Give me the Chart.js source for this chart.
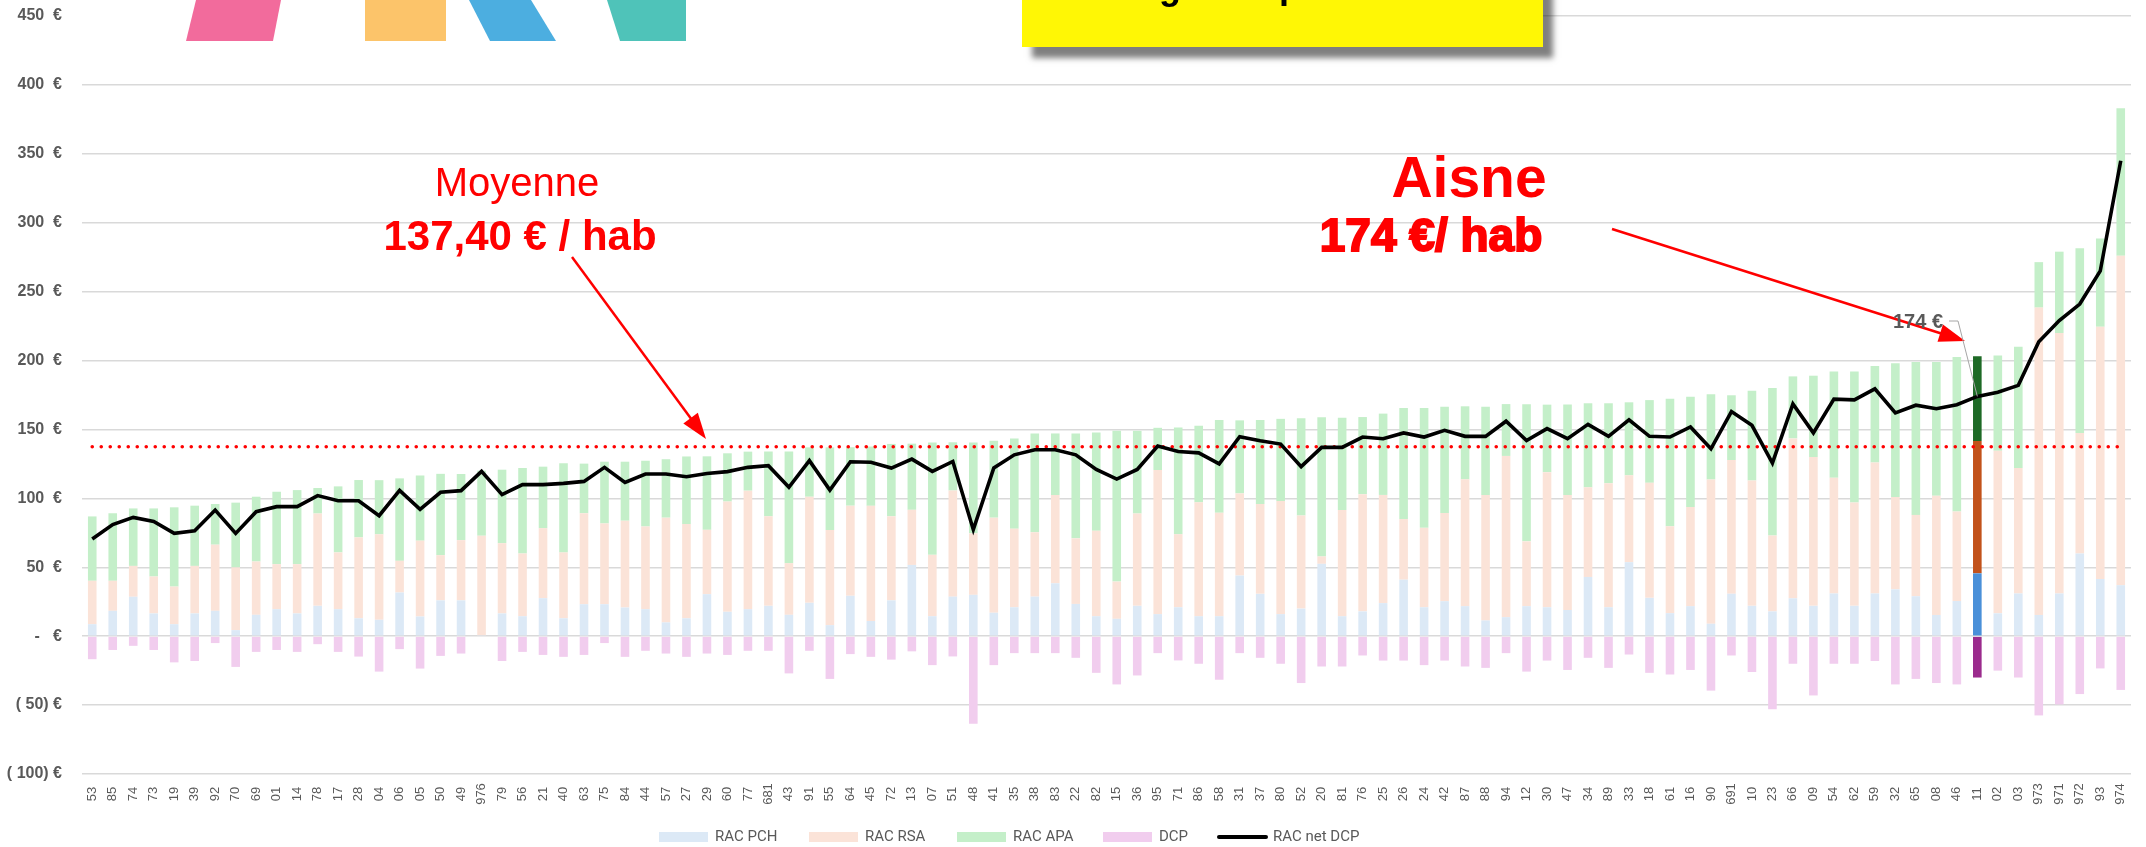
<!DOCTYPE html>
<html>
<head>
<meta charset="utf-8">
<script src="https://cdn.jsdelivr.net/npm/chart.js@4.4.1/dist/chart.umd.min.js"></script>
<style>
html, body { margin: 0; padding: 0; background: #fff; }
#wrap { width: 2146px; height: 847px; position: relative; }
</style>
</head>
<body>
<div id="wrap"><canvas id="chart0"></canvas></div>
<script>
// departements, in the order of the chart
const departements = ['53','85','74','73','19','39','92','70','69','01','14','78','17','28','04','06','05','50','49','976',
    '79','56','21','40','63','75','84','44','57','27','29','60','77','681','43','91','55','64','45','72',
    '13','07','51','48','41','35','38','83','22','82','15','36','95','71','86','58','31','37','80','52',
    '20','81','76','25','26','24','42','87','88','94','12','30','47','34','89','33','18','61','16','90',
    '691','10','23','66','09','54','62','59','32','65','08','46','11','02','03','973','971','972','93','974'];

// euros / habitant
const racPch = [8.7,18.4,28.6,16.5,8.7,16.5,18.4,4.4,15.5,19.6,16.5,22,19.6,13,11.9,31.7,14.3,26,26,0.7,
    16.5,14.5,27.6,13,23.2,23.2,20.8,19.6,10,13,30.5,17.7,19.6,22,15.5,24.2,8,29.3,11,26,
    51.7,14.5,28.7,30,17,21,28.7,38.4,23.4,14.5,12.6,22,16,21,14.5,14.5,44,30.7,16,20,
    52.5,14.5,18,24,41,21,25.4,21.8,11.4,13.8,21.8,21,19,43,21,53.7,27.8,16.7,21.8,9,
    30.8,22,18,27.5,22,31,22,31,34,29,15.4,25.5,45.6,16.6,31,15.4,31,60,41.5,37];
const racRsa = [31.5,21.8,22.4,26.8,27.3,34.5,48,45.5,38.7,32.7,35.8,67,41.2,58.7,62,23,55,32.8,43.7,72.2,
    51,45.5,50.8,47.8,66,58.6,63,60,76,68.4,46.7,80,86,65,37.5,77,69,65.4,83.6,61,
    40,44.5,77,44.6,69,57,46.7,64,47.6,62,27,67,104.6,53,82.6,75,59.6,65.2,82,67.6,
    5.4,77,85,78.5,44,57.6,64,92,91,117,47,98,83.5,65,90,63,83.5,63,72,104.6,
    97,91,55,116,108,84,75,95,67,59,86.5,65,96,118,91,223,189,87.5,183,239];
const racApa = [46.7,49,41.7,49.4,57.5,43.7,29.5,47,47,52.5,53.7,18.5,47.9,41.6,39.3,59.8,47.3,59,48,47.2,
    53.3,62,44.6,64.6,36,44.8,42.8,47.7,42.4,49,53.3,35,28.3,47,81,35.8,60,42.4,43,52.5,
    48,81.6,35,66,55.8,65.4,71.7,44.7,76,71.2,109.4,60,30.6,77.4,55.6,67.4,53,61,59.7,70.6,
    101,67,56,59,80.6,87,77,53,64,37.6,99.5,49,65.6,61,58,53,60,92.5,80,62,
    47,65,107,45,59,77,95,70,97,111,97,112,61.6,69,88,33,59,134,64,107];
const dcp = [-16.7,-10,-7,-10,-19,-18,-5,-22.3,-11.4,-10,-11.4,-5.8,-11.4,-14.8,-25.7,-9.4,-23.5,-14.3,-12.6,0,
    -18,-11.4,-13.6,-15,-13.6,-5,-15,-10.6,-12.6,-15,-12.6,-13.6,-10.6,-10.6,-27,-10.6,-31,-13,-15,-17,
    -11,-21,-14.7,-63.5,-21,-12.3,-12.3,-12.3,-15.7,-26.6,-35,-28.5,-12.3,-17.6,-20,-31.6,-12.3,-15.7,-20,-34,
    -22,-22,-14,-17.7,-17.7,-21,-17.7,-22,-23,-12.3,-25.7,-17.7,-24.5,-15.7,-23,-13.3,-26.6,-27.8,-24.5,-39.5,
    -14,-26,-53,-20,-43,-20,-20,-18,-35,-31,-34,-35,-30,-25,-30,-57.5,-49.5,-42,-23.4,-39];
const racNetDcp = [70.5,81,86.2,83.3,74.6,76.5,91.5,74.6,90.3,94,94,102,98.3,98.3,87.4,105.8,92,104.4,105.6,119.6,
    102.7,110,110,110.9,112.3,122.5,111.6,117.7,117.7,115.7,118,119.4,122.5,123.7,108,127.4,106,126.6,126.2,122,
    128.5,119.6,126.8,77.3,122,131.6,135.3,135.3,131.6,121,114,121,138,134,133,125,144.7,141.8,139.4,123,
    137,137,144.5,143.3,147.5,144.5,149.4,145,145,156,142,150.6,143.3,153.7,145,157,145,144.5,151.8,136,
    163,153,125.6,168.5,147.5,172,171.5,179.5,162,167.6,165,168,174,177,182,213.6,229,241,265,345];
const moyenne = 137.40;
const aisneValeur = 174;
const yTicks = { min: -100, max: 450, step: 50 };

const seriesNames = ['RAC PCH', 'RAC RSA', 'RAC APA', 'DCP', 'RAC net DCP'];
const pale = ['#dce9f6', '#fbe3d8', '#c4efc9', '#f1cdee'];
const dark = ['#4a90d9', '#c2521b', '#1e6a26', '#9b2b8d'];
const hiIndex = 92; // barre mise en avant

function barColors(k) {
    return departements.map((_, i) => i === hiIndex ? dark[k] : pale[k]);
}

function euro(v) {
    if (v === 0) return '-   €';
    if (v < 0) return '( ' + (-v) + ') €';
    return v + '  €';
}

function arrow(ctx, x1, y1, x2, y2, head, half) {
    const a = Math.atan2(y2 - y1, x2 - x1);
    const c = Math.cos(a), s = Math.sin(a);
    ctx.beginPath();
    ctx.moveTo(x1, y1);
    ctx.lineTo(x2 - head * 0.8 * c, y2 - head * 0.8 * s);
    ctx.stroke();
    ctx.beginPath();
    ctx.moveTo(x2, y2);
    ctx.lineTo(x2 - head * c + half * s, y2 - head * s - half * c);
    ctx.lineTo(x2 - head * c - half * s, y2 - head * s + half * c);
    ctx.closePath();
    ctx.fill();
}

const decor = {
    id: 'decor',
    beforeDraw(chart) {
        const ctx = chart.ctx;
        ctx.save();
        ctx.fillStyle = '#ffffff';
        ctx.fillRect(0, 0, chart.width, chart.height);
        ctx.restore();
    },
    beforeDatasetDraw(chart, args) {
        if (args.index !== 4) return;
        const ctx = chart.ctx, xs = chart.scales.x, ys = chart.scales.y;
        const y = ys.getPixelForValue(moyenne);
        ctx.save();
        ctx.strokeStyle = '#ff0000';
        ctx.lineWidth = 3.6;
        ctx.lineCap = 'round';
        ctx.setLineDash([0, 9]);
        ctx.beginPath();
        ctx.moveTo(xs.getPixelForTick(0), y);
        ctx.lineTo(xs.getPixelForTick(departements.length - 1), y);
        ctx.stroke();
        ctx.restore();
    },
    afterDraw(chart) {
        const ctx = chart.ctx, xs = chart.scales.x, ys = chart.scales.y;
        ctx.save();

        // x labels, read bottom to top
        ctx.fillStyle = '#595959';
        ctx.font = '13px "Liberation Sans", Arial, sans-serif';
        ctx.textAlign = 'center';
        ctx.textBaseline = 'middle';
        departements.forEach((d, i) => {
            ctx.save();
            ctx.translate(xs.getPixelForTick(i), 794);
            ctx.rotate(-Math.PI / 2);
            ctx.fillText(d, 0, 0);
            ctx.restore();
        });

        // logo (cut at top)
        ctx.fillStyle = '#ffffff';
        ctx.fillRect(chart.chartArea.left, 0, 1022 - chart.chartArea.left, 41);
        const logo = [
            ['#f26b9c', [[196, 0], [281, 0], [273, 41], [186, 41]]],
            ['#fcc46a', [[365, 0], [446, 0], [446, 41], [365, 41]]],
            ['#4caee0', [[469, 0], [531, 0], [556, 41], [490, 41]]],
            ['#4fc3b9', [[607, 0], [686, 0], [686, 41], [620, 41]]],
        ];
        logo.forEach(([c, pts]) => {
            ctx.fillStyle = c;
            ctx.beginPath();
            pts.forEach((p, k) => k ? ctx.lineTo(p[0], p[1]) : ctx.moveTo(p[0], p[1]));
            ctx.closePath();
            ctx.fill();
        });

        // yellow title box (cut at top)
        ctx.save();
        ctx.shadowColor = 'rgba(0,0,0,0.5)';
        ctx.shadowBlur = 6;
        ctx.shadowOffsetX = 10;
        ctx.shadowOffsetY = 11;
        ctx.fillStyle = '#fff705';
        ctx.fillRect(1022, -20, 521, 67);
        ctx.restore();
        ctx.fillStyle = '#000';
        ctx.font = 'bold 36px "Liberation Sans", Arial, sans-serif';
        ctx.textAlign = 'left';
        ctx.textBaseline = 'alphabetic';
        ctx.fillText('g', 1159, -1);
        ctx.fillText('p', 1279, -2);

        // annotations
        ctx.fillStyle = '#ff0000';
        ctx.strokeStyle = '#ff0000';
        ctx.textAlign = 'center';
        ctx.font = '40px "Liberation Sans", Arial, sans-serif';
        ctx.fillText('Moyenne', 517, 196);
        ctx.font = 'bold 42px "Liberation Sans", Arial, sans-serif';
        ctx.fillText('137,40 € / hab', 520, 250);
        ctx.font = 'bold 57px "Liberation Sans", Arial, sans-serif';
        ctx.fillText('Aisne', 1469, 197);
        ctx.font = 'bold 46px "Liberation Sans", Arial, sans-serif';
        ctx.lineWidth = 2;
        ctx.fillText(aisneValeur + ' €/ hab', 1431, 251);
        ctx.strokeText(aisneValeur + ' €/ hab', 1431, 251);

        ctx.lineWidth = 2.5;
        arrow(ctx, 572, 257, 706, 439, 26, 9);
        arrow(ctx, 1612, 229, 1965, 341, 26, 9);

        // data label of the highlighted point
        const px = xs.getPixelForTick(hiIndex), py = ys.getPixelForValue(racNetDcp[hiIndex]);
        ctx.strokeStyle = '#a6a6a6';
        ctx.lineWidth = 1;
        ctx.beginPath();
        ctx.moveTo(1949, 321);
        ctx.lineTo(1958, 321);
        ctx.lineTo(px, py);
        ctx.stroke();
        ctx.fillStyle = '#595959';
        ctx.font = 'bold 20px "Liberation Sans", Arial, sans-serif';
        ctx.textAlign = 'right';
        ctx.fillText(aisneValeur + ' €', 1943, 328);

        // legend
        const lx = [659, 809, 957, 1103, 1217];
        const ly = 837;
        ctx.font = '15px Roboto, "Liberation Sans", sans-serif';
        ctx.textAlign = 'left';
        ctx.textBaseline = 'middle';
        seriesNames.forEach((name, k) => {
            if (k < 4) {
                ctx.fillStyle = pale[k];
                ctx.fillRect(lx[k], ly - 5, 49, 10);
            } else {
                ctx.strokeStyle = '#000';
                ctx.lineWidth = 4;
                ctx.lineCap = 'round';
                ctx.beginPath();
                ctx.moveTo(lx[k] + 2, ly);
                ctx.lineTo(lx[k] + 49, ly);
                ctx.stroke();
            }
            ctx.fillStyle = '#595959';
            ctx.fillText(name, lx[k] + 56, ly);
        });
        ctx.restore();
    }
};

const ctx = document.getElementById('chart0').getContext('2d');
window.chart = new Chart(ctx, {
    type: 'bar',
    data: {
        labels: departements,
        datasets: [
            { label: seriesNames[0], data: racPch, backgroundColor: barColors(0), stack: 'rac', order: 1 },
            { label: seriesNames[1], data: racRsa, backgroundColor: barColors(1), stack: 'rac', order: 1 },
            { label: seriesNames[2], data: racApa, backgroundColor: barColors(2), stack: 'rac', order: 1 },
            { label: seriesNames[3], data: dcp, backgroundColor: barColors(3), stack: 'rac', order: 1 },
            {
                type: 'line',
                label: seriesNames[4],
                data: racNetDcp,
                borderColor: '#000000',
                borderWidth: 3.6,
                pointRadius: 0,
                tension: 0,
                stack: 'net',
                order: 0,
            },
        ],
    },
    options: {
        responsive: true,
        maintainAspectRatio: false,
        animation: false,
        layout: { autoPadding: false, padding: { top: 16, right: 15, left: 0, bottom: 0 } },
        datasets: { bar: { categoryPercentage: 1, barPercentage: 0.42 } },
        plugins: { legend: { display: false }, tooltip: { enabled: false } },
        scales: {
            x: {
                stacked: true,
                grid: { display: false },
                border: { display: false },
                ticks: { display: false },
                afterFit: (s) => { s.height = 73; s.paddingLeft = 0; s.paddingRight = 0; },
            },
            y: {
                stacked: true,
                min: yTicks.min,
                max: yTicks.max,
                ticks: {
                    stepSize: yTicks.step,
                    padding: 20,
                    color: '#595959',
                    font: { family: '"Liberation Sans", Arial, sans-serif', size: 16, weight: 'bold' },
                    callback: (v) => euro(v),
                },
                grid: { color: '#d9d9d9', lineWidth: 1.4, drawTicks: false },
                border: { display: false },
                afterFit: (s) => { s.width = 82; s.paddingTop = 0; s.paddingBottom = 0; },
            },
        },
    },
    plugins: [decor],
});
</script>
</body>
</html>
